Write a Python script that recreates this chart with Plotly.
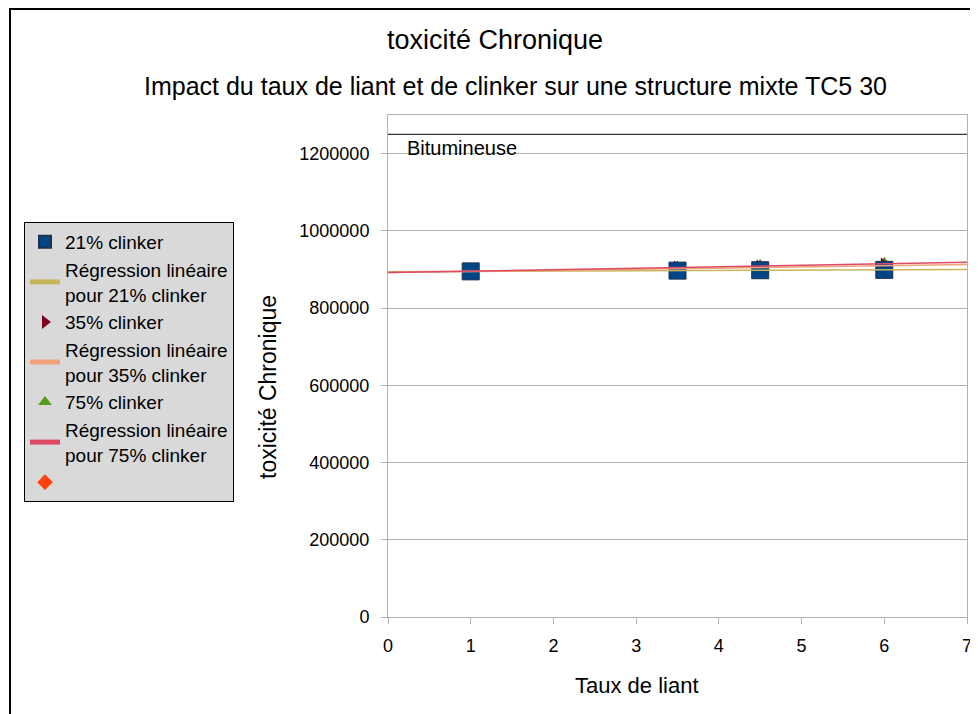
import numpy as np
import plotly.graph_objects as go

# taux de liant
taux_liant = [1, 3.5, 4.5, 6]

# toxicité chronique per clinker rate
clinker_21 = [895000, 897000, 898000, 899000]
clinker_35 = [895000, 902000, 905000, 910000]
clinker_75 = [896000, 905000, 909000, 915000]

bitumineuse = 1250000

x_ticks = [0, 1, 2, 3, 4, 5, 6, 7]
y_ticks = [0, 200000, 400000, 600000, 800000, 1000000, 1200000]

FONT = "Liberation Sans, Arial, sans-serif"

# plot area size in pixels, used to place the free texts
PW, PH = 579, 502


def trend(xs, ys):
    # linear regression drawn over the whole x range
    slope, inter = np.polyfit(xs, ys, 1)
    xr = [x_ticks[0], x_ticks[-1]]
    return xr, [inter + slope * v for v in xr]


fig = go.Figure()

# markers first (lines are drawn over them in the original)
fig.add_trace(go.Scatter(
    x=taux_liant, y=clinker_75, mode='markers', name='75% clinker',
    marker=dict(symbol='triangle-up', size=14, color='#579d1c'),
    legendrank=5,
))
fig.add_trace(go.Scatter(
    x=taux_liant, y=clinker_35, mode='markers', name='35% clinker',
    marker=dict(symbol='triangle-right', size=14, color='#7e0021'),
    legendrank=3,
))
fig.add_trace(go.Scatter(
    x=taux_liant, y=clinker_21, mode='markers', name='21% clinker',
    marker=dict(symbol='square', size=17, color='#004586',
                line=dict(color='#1f2f4f', width=1)),
    legendrank=1,
))

for ys, label, color, rank in [
    (clinker_21, '21% clinker', '#c8b45a', 2),
    (clinker_35, '35% clinker', '#f2a27a', 4),
    (clinker_75, '75% clinker', '#dc4a64', 6),
]:
    tx, ty = trend(taux_liant, ys)
    fig.add_trace(go.Scatter(
        x=tx, y=ty, mode='lines',
        name='Régression linéaire<br>pour ' + label,
        line=dict(color=color, width=1.5),
        legendrank=rank,
    ))

# empty series shown only in the legend
fig.add_trace(go.Scatter(
    x=[None], y=[None], mode='markers', name=' ',
    marker=dict(symbol='diamond', size=10, color='#ff420e'),
    legendrank=7,
))

# reference line
fig.add_trace(go.Scatter(
    x=[x_ticks[0], x_ticks[-1]], y=[bitumineuse, bitumineuse], mode='lines',
    line=dict(color='black', width=1), showlegend=False,
))

fig.add_annotation(
    x=0.2, y=bitumineuse, xref='x', yref='y', text='Bitumineuse',
    showarrow=False, xanchor='left', yanchor='top', yshift=-1,
    font=dict(size=20, color='black'),
)

fig.add_annotation(
    x=107 / PW, y=1.0 + 75 / PH, xref='paper', yref='paper',
    text='toxicité Chronique', showarrow=False, xanchor='center',
    font=dict(size=27, color='black'), yanchor='middle',
)
fig.add_annotation(
    x=127 / PW, y=1.0 + 29 / PH, xref='paper', yref='paper',
    text='Impact du taux de liant et de clinker sur une structure mixte TC5 30',
    showarrow=False, xanchor='center',
    font=dict(size=25, color='black'), yanchor='middle',
)

# axis titles, placed off-centre like the original
fig.add_annotation(
    x=-120 / PW, y=(617 - 387) / PH, xref='paper', yref='paper',
    text='toxicité Chronique', showarrow=False, textangle=-90,
    xanchor='center', yanchor='middle', font=dict(size=23, color='black'),
)
fig.add_annotation(
    x=249 / PW, y=-69 / PH, xref='paper', yref='paper',
    text='Taux de liant', showarrow=False,
    xanchor='center', yanchor='middle', font=dict(size=22, color='black'),
)

# outer frame of the picture
fig.add_shape(
    type='rect', xref='paper', yref='paper',
    x0=-378 / PW, x1=1.2, y0=-0.4, y1=1.0 + 106 / PH,
    line=dict(color='black', width=2), fillcolor='rgba(0,0,0,0)',
)

# page body adds 8px around the figure, so the figure is 8px smaller
fig.update_layout(
    width=970,
    height=706,
    margin=dict(l=380, r=11, t=107, b=97, autoexpand=False),
    paper_bgcolor='white',
    plot_bgcolor='white',
    font=dict(family=FONT, size=17, color='black'),
    showlegend=True,
    legend=dict(
        x=-364 / PW, y=1.0 - (222 - 115) / PH, xanchor='left', yanchor='top',
        bgcolor='#d9d9d9', bordercolor='black', borderwidth=1,
        font=dict(size=19), itemsizing='constant', tracegroupgap=0,
    ),
    xaxis=dict(
        range=[x_ticks[0], x_ticks[-1]], tickvals=x_ticks,
        showgrid=False, zeroline=False, automargin=False,
        showline=True, linecolor='#b3b3b3', mirror=True,
        ticks='outside', tickcolor='#b3b3b3', ticklen=6,
        tickfont=dict(size=18), ticklabelstandoff=6,
    ),
    yaxis=dict(
        range=[0, 1300000], tickvals=y_ticks, tickformat='d',
        showgrid=True, gridcolor='#b3b3b3', zeroline=False, automargin=False,
        showline=True, linecolor='#b3b3b3', mirror=True,
        ticks='outside', tickcolor='#b3b3b3', ticklen=6,
        tickfont=dict(size=18), ticklabelstandoff=8,
    ),
)

fig.write_html("out.html")
